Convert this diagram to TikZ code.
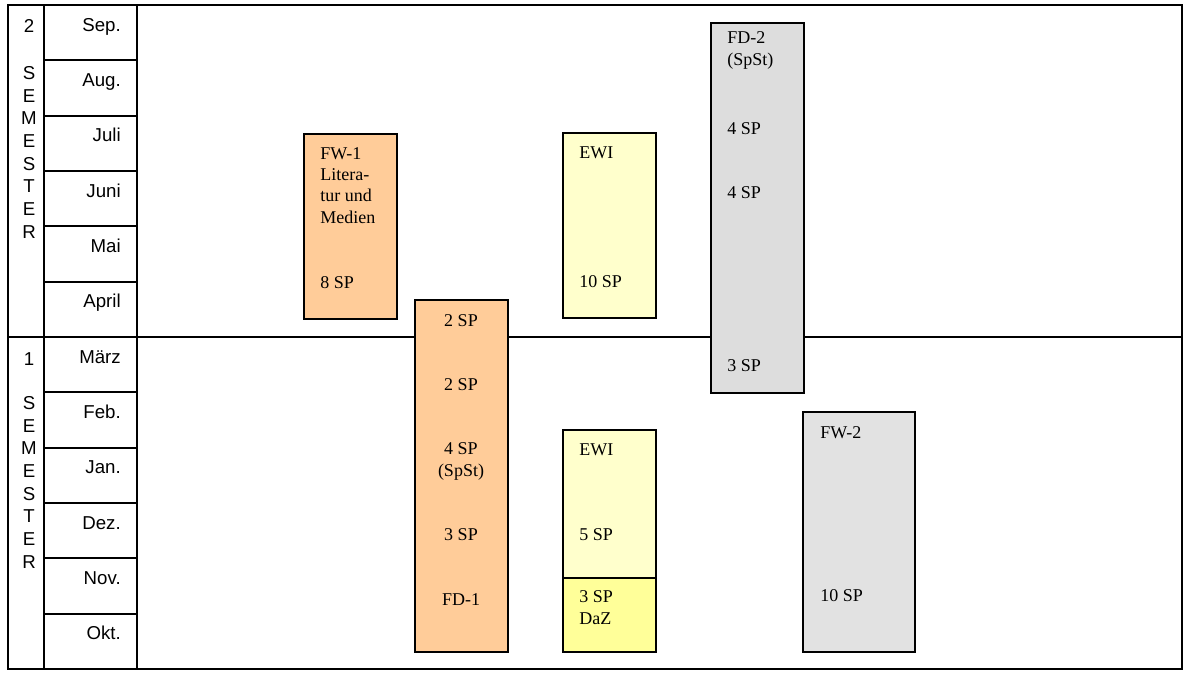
\documentclass[tikz,border=0pt]{standalone}
\usepackage{fontspec}
\setmainfont{Liberation Serif}
\setsansfont{Liberation Sans}
\definecolor{peach}{HTML}{FFCC99}
\definecolor{paleyellow}{HTML}{FFFFCC}
\definecolor{dazyellow}{HTML}{FFFF99}
\definecolor{fdgray}{HTML}{DDDDDD}
\definecolor{fwgray}{HTML}{E2E2E2}
\begin{document}
\begin{tikzpicture}[x=0.75pt,y=-0.75pt,
    month/.style={anchor=base east,inner sep=0pt,font=\sffamily\fontsize{14}{17}\selectfont},
    sem/.style={anchor=base,inner sep=0pt,align=center,font=\sffamily\fontsize{14}{17}\selectfont},
    lbl/.style={anchor=base west,inner sep=0pt,align=left,font=\fontsize{13.5}{16}\selectfont},
    clbl/.style={lbl,anchor=base,align=center},
    block/.style={draw,line width=1.3pt}]
    \useasboundingbox (0,0) rectangle (1192,675);

    % table frame
    \draw[line width=1.4pt] (8,5) rectangle (1182,669);
    \draw[line width=1.4pt] (44,5) -- (44,669);
    \draw[line width=1.4pt] (137,5) -- (137,669);
    \draw[line width=1.4pt] (8,337) -- (1182,337);
    \foreach \i in {1,...,11}{
        \draw[line width=1.4pt] (44,{5+55.333*\i}) -- (137,{5+55.333*\i});
    }

    % months
    \foreach \m [count=\i from 0] in {Sep.,Aug.,Juli,Juni,Mai,April,März,Feb.,Jan.,Dez.,Nov.,Okt.}{
        \node[month] (m\i) at (121,{31+55.333*\i}) {\m};
    }

    % semesters (base = last line)
    \node[sem] (s2num) at (29,32) {2};
    \node[sem] (s2) at (29,238) {S\\E\\M\\E\\S\\T\\E\\R};
    \node[sem] (s1num) at (29,365.5) {1};
    \node[sem] (s1) at (29,568) {S\\E\\M\\E\\S\\T\\E\\R};

    % modules
    \draw[block,fill=peach] (304,134) rectangle (397,319);
    \draw[block,fill=peach] (415,300) rectangle (508,652);
    \draw[block,fill=paleyellow] (563,133) rectangle (656,318);
    \draw[block,fill=paleyellow] (563,430) rectangle (656,578);
    \draw[block,fill=dazyellow] (563,578) rectangle (656,652);
    \draw[block,fill=fdgray] (711,23) rectangle (804,393);
    \draw[block,fill=fwgray] (803,412) rectangle (915,652);

    \node[lbl] (fw1) at (320,223) {FW-1\\Litera-\\tur und\\Medien};
    \node[lbl] (fw1sp) at (320,288) {8 SP};

    \node[clbl] (fd1a) at (461,326) {2 SP};
    \node[clbl] (fd1b) at (461,390) {2 SP};
    \node[clbl] (fd1c) at (461,476) {4 SP\\(SpSt)};
    \node[clbl] (fd1d) at (461,540) {3 SP};
    \node[clbl] (fd1) at (461,605) {FD-1};

    \node[lbl] (ewi2) at (579,158) {EWI};
    \node[lbl] (ewi2sp) at (579,287) {10 SP};
    \node[lbl] (ewi1) at (579,455) {EWI};
    \node[lbl] (ewi1sp) at (579,540) {5 SP};
    \node[lbl] (daz) at (579,624) {3 SP\\DaZ};

    \node[lbl] (fd2) at (727,65) {FD-2\\(SpSt)};
    \node[lbl] (fd2a) at (727,134) {4 SP};
    \node[lbl] (fd2b) at (727,198) {4 SP};
    \node[lbl] (fd2c) at (727,371) {3 SP};

    \node[lbl] (fw2) at (820,438) {FW-2};
    \node[lbl] (fw2sp) at (820,601) {10 SP};
\end{tikzpicture}
\end{document}
